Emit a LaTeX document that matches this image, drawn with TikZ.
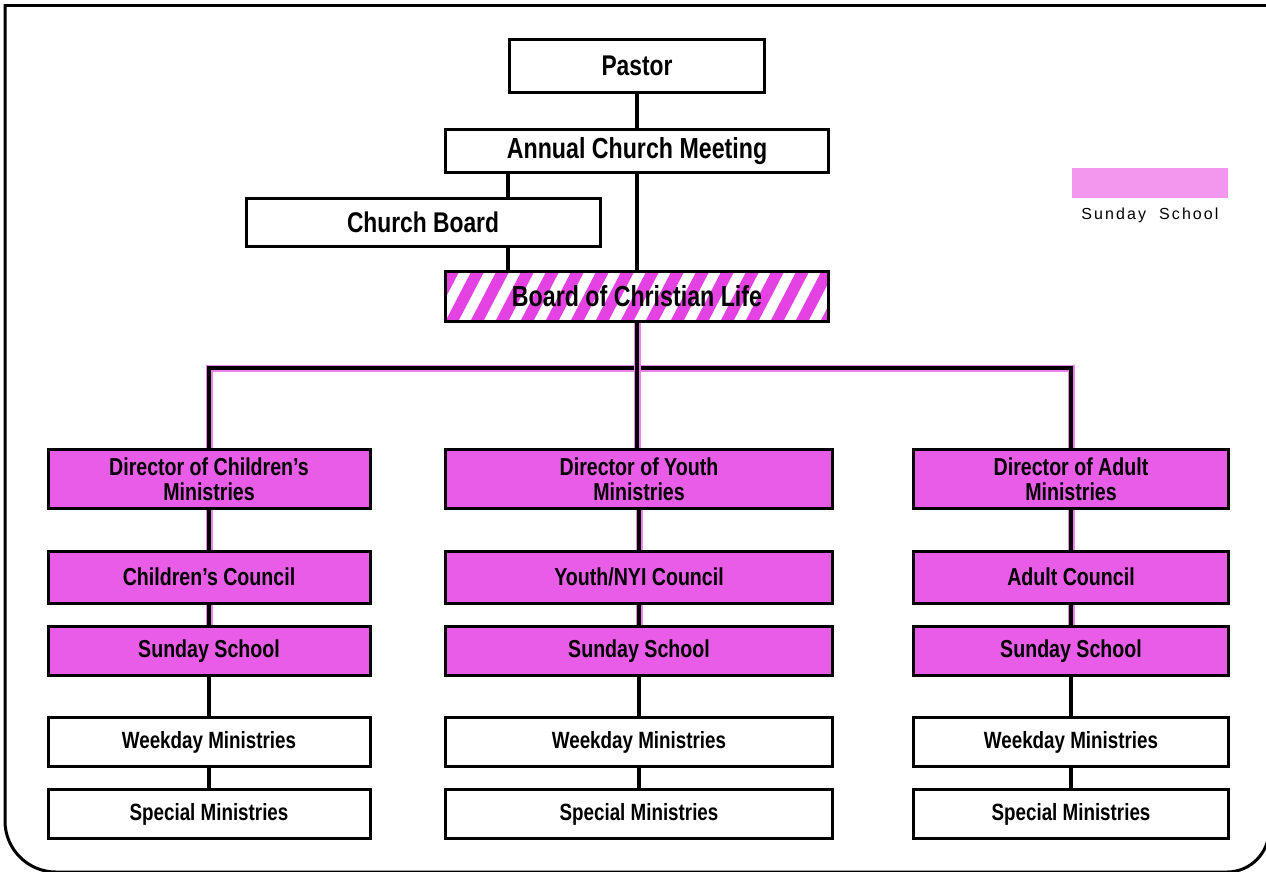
\documentclass[tikz,border=0pt]{standalone}
\usepackage{fontspec}
\setmainfont{Liberation Sans}[FakeStretch=0.8]
\newfontfamily\legendfont{Liberation Sans}
\usepackage{xcolor}
\usepackage{tikz}
\usetikzlibrary{calc, positioning}

\definecolor{sspink}{RGB}{233,92,232}
\definecolor{sslight}{RGB}{243,150,238}
\definecolor{ssglow}{RGB}{238,130,236}
\definecolor{ssstripe}{RGB}{228,66,226}

\begin{document}
\begin{tikzpicture}[x=1pt, y=-1pt, >=latex]
		\tikzstyle{box} = [draw=black, line width=3pt, rectangle, inner sep=0pt, align=center, font=\bfseries]
		\tikzstyle{ss} = [box, fill=sspink]
		\tikzstyle{link} = [line width=3.5pt]
		\tikzstyle{sslink} = [link, preaction={draw=ssglow, line width=7pt}]
		\tikzstyle{big} = [font=\bfseries\fontsize{28.5}{30}\selectfont]
		\tikzstyle{mid} = [font=\bfseries\fontsize{29}{31}\selectfont]
		\tikzstyle{small} = [font=\bfseries\fontsize{24.5}{25}\selectfont]
		\tikzstyle{tiny} = [font=\bfseries\fontsize{23.5}{25}\selectfont]
		\tikzstyle{stripes} = [path picture={
			\foreach \k in {-3,...,17}
				\fill[ssstripe] ([xshift=\k*25pt]path picture bounding box.south west)
					-- ++(13pt,0) -- ++(26pt,50pt) -- ++(-13pt,0) -- cycle;}]

		\useasboundingbox (0,0) rectangle (1266,871);

		% frame
		\draw[line width=3pt] (1290,5) -- (5,5);
		\draw[line width=3pt] (5,4) -- (5,821)
			arc[start angle=180, end angle=90, radius=51] -- (1227,872)
			arc[start angle=90, end angle=0, radius=42] -- (1269,780);

		% top of the chart
		\node[box, big, minimum width=255pt, minimum height=53pt] 	at (637,66) 	(pastor) 	{Pastor};
		\node[box, mid, minimum width=383pt, minimum height=43pt] 	at (637,151) 	(acm) 		{Annual Church Meeting};
		\node[box, big, minimum width=354pt, minimum height=48pt] 	at (423,222) 	(cboard) 	{Church Board};
		\node[box, mid, stripes, minimum width=383pt, minimum height=50pt] at (637,296) (bcl) {Board of Christian Life};

		% legend
		\node[fill=sslight, minimum width=156pt, minimum height=30pt] at (1150,183) (legend) {};
		\node[below=9pt of legend, inner sep=0pt, font=\legendfont\fontsize{16}{18}\selectfont\addfontfeature{LetterSpace=13}] (legendtxt) {Sunday\ \ School};

		% children
		\node[ss, small, minimum width=322pt, minimum height=59pt] 	at (209,479) 	(dirC) 	{Director of Children's\\Ministries};
		\node[ss, small, minimum width=322pt, minimum height=52pt] 	at (209,577) 	(counC) {Children's Council};
		\node[ss, small, minimum width=322pt, minimum height=49pt] 	at (209,651) 	(ssC) 	{Sunday School};
		\node[box, tiny, minimum width=322pt, minimum height=49pt] 	at (209,742) 	(wkC) 	{Weekday Ministries};
		\node[box, tiny, minimum width=322pt, minimum height=49pt] 	at (209,814) 	(spC) 	{Special Ministries};

		% youth
		\node[ss, small, minimum width=387pt, minimum height=59pt] 	at (639,479) 	(dirY) 	{Director of Youth\\Ministries};
		\node[ss, small, minimum width=387pt, minimum height=52pt] 	at (639,577) 	(counY) {Youth/NYI Council};
		\node[ss, small, minimum width=387pt, minimum height=49pt] 	at (639,651) 	(ssY) 	{Sunday School};
		\node[box, tiny, minimum width=387pt, minimum height=49pt] 	at (639,742) 	(wkY) 	{Weekday Ministries};
		\node[box, tiny, minimum width=387pt, minimum height=49pt] 	at (639,814) 	(spY) 	{Special Ministries};

		% adults
		\node[ss, small, minimum width=315pt, minimum height=59pt] 	at (1071,479) 	(dirA) 	{Director of Adult\\Ministries};
		\node[ss, small, minimum width=315pt, minimum height=52pt] 	at (1071,577) 	(counA) {Adult Council};
		\node[ss, small, minimum width=315pt, minimum height=49pt] 	at (1071,651) 	(ssA) 	{Sunday School};
		\node[box, tiny, minimum width=315pt, minimum height=49pt] 	at (1071,742) 	(wkA) 	{Weekday Ministries};
		\node[box, tiny, minimum width=315pt, minimum height=49pt] 	at (1071,814) 	(spA) 	{Special Ministries};

		\coordinate (bus) at (637,368);
		\coordinate (cbx) at ([xshift=64pt]acm.south west);

		\path[link]
			(pastor) 	edge 	(acm)
			(acm.south) edge 	(bcl.north)
			(cbx) 		edge 	(cbx |- cboard.north)
			(cbx |- cboard.south) edge (cbx |- bcl.north);

		% the pink part
		\draw[sslink] (dirC.north) |- (bus) -| (dirA.north);
		\draw[sslink] (bcl.south) -- (bus -| bcl.south) -- (dirY.north -| bcl.south);
		\foreach \c in {C, Y, A} {
			\draw[sslink] (dir\c) -- (coun\c);
			\draw[sslink] (coun\c) -- (ss\c);
			\draw[link] (ss\c) -- (wk\c);
			\draw[link] (wk\c) -- (sp\c);
		}
\end{tikzpicture}
\end{document}
